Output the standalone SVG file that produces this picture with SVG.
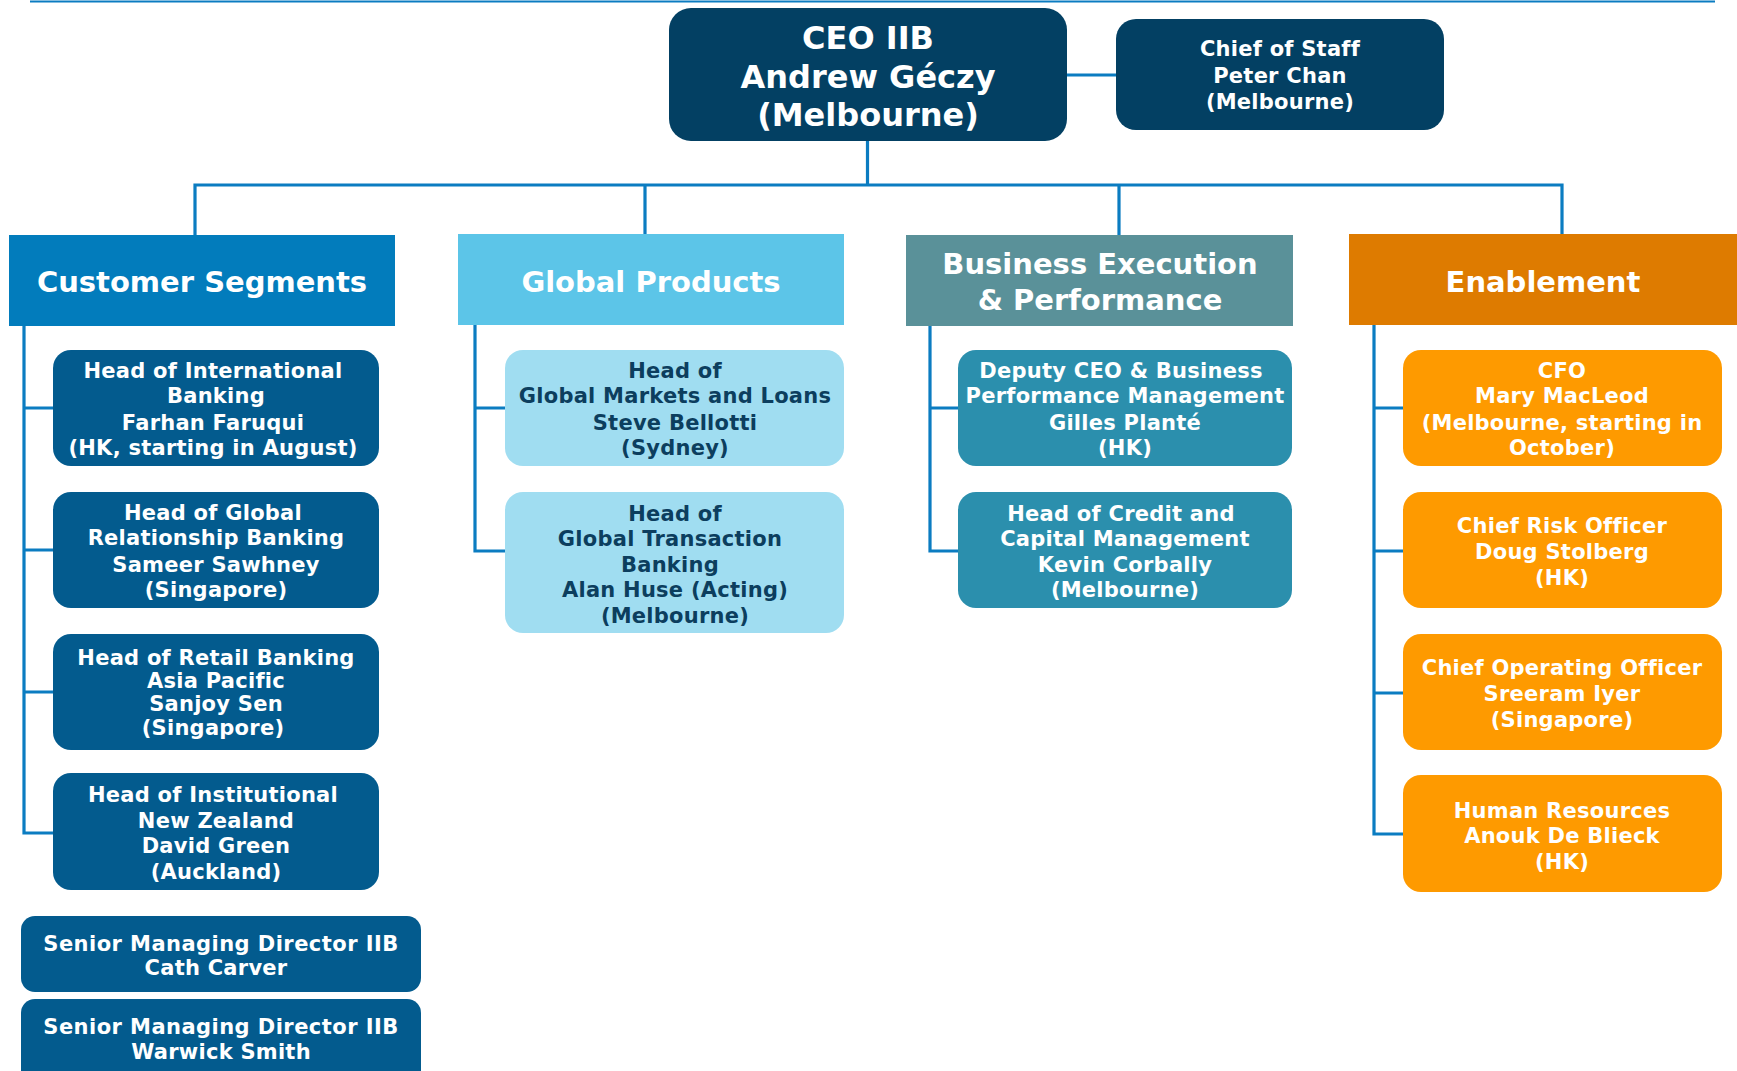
<svg xmlns="http://www.w3.org/2000/svg" width="1737" height="1071" viewBox="0 0 1737 1071">
<style>
text{font-family:"DejaVu Sans","Verdana",sans-serif;font-weight:bold;text-anchor:middle}
.w{fill:#ffffff}
.dk{fill:#0c3e5e}
.f21{font-size:21px;letter-spacing:0.25px}
.f29{font-size:29px}
.f32{font-size:32px}
.ln{stroke:#0b7cc1;stroke-width:3.2;fill:none}
.ceo{fill:#034063}
.cs{fill:#035b8e}
.gp{fill:#a0ddf1}
.be{fill:#2b8fad}
.en{fill:#fe9a00}
.smd{letter-spacing:0.45px}
</style>
<g id="connectors">
<line x1="30" y1="1.5" x2="1715" y2="1.5" stroke="#0b7cc1" stroke-width="2"/>
<path class="ln" d="M1067 75H1116"/>
<path class="ln" d="M867.5 141V185M195 235V185H1562V235M645 185V235M1119 185V235"/>
<path class="ln" d="M24 326V833H53M24 408H53M24 550H53M24 692H53"/>
<path class="ln" d="M475 325V551H505M475 408H505"/>
<path class="ln" d="M930 326V551H958M930 408H958"/>
<path class="ln" d="M1374 325V834H1403M1374 408H1403M1374 551H1403M1374 693H1403"/>
</g>
<g id="ceo"><rect class="ceo" x="669" y="8" width="398" height="133" rx="22"/>
<text class="w f32" x="868" y="49">CEO IIB</text><text class="w f32" x="868" y="88">Andrew Géczy</text><text class="w f32" x="868" y="126">(Melbourne)</text></g>
<g id="chief-of-staff"><rect class="ceo" x="1116" y="19" width="328" height="111" rx="20"/>
<text class="w f21" x="1280" y="56">Chief of Staff</text><text class="w f21" x="1280" y="83">Peter Chan</text><text class="w f21" x="1280" y="108.5">(Melbourne)</text></g>
<g id="h-cs"><rect x="9" y="235" width="386" height="91" fill="#027cbc"/><text class="w f29" x="202" y="292">Customer Segments</text></g>
<g id="h-gp"><rect x="458" y="234" width="386" height="91" fill="#5cc5e8"/><text class="w f29" x="651" y="292">Global Products</text></g>
<g id="h-be"><rect x="906" y="235" width="387" height="91" fill="#5a9199"/><text class="w f29" x="1100" y="274">Business Execution</text><text class="w f29" x="1100" y="309.5">&amp; Performance</text></g>
<g id="h-en"><rect x="1349" y="234" width="388" height="91" fill="#de7b00"/><text class="w f29" x="1543" y="292">Enablement</text></g>
<g id="cs1"><rect class="cs" x="53" y="350" width="326" height="116" rx="18"/>
<text class="w f21" x="213" y="377.5">Head of International</text><text class="w f21" x="216" y="403">Banking</text><text class="w f21" x="213" y="429.5">Farhan Faruqui</text><text class="w f21" x="213" y="455">(HK, starting in August)</text></g>
<g id="cs2"><rect class="cs" x="53" y="492" width="326" height="116" rx="18"/>
<text class="w f21" x="213" y="519.5">Head of Global</text><text class="w f21" x="216" y="545">Relationship Banking</text><text class="w f21" x="216" y="571.5">Sameer Sawhney</text><text class="w f21" x="216" y="597">(Singapore)</text></g>
<g id="cs3"><rect class="cs" x="53" y="634" width="326" height="116" rx="18"/>
<text class="w f21" x="216" y="664.5">Head of Retail Banking</text><text class="w f21" x="216" y="688">Asia Pacific</text><text class="w f21" x="216" y="711">Sanjoy Sen</text><text class="w f21" x="213" y="734.5">(Singapore)</text></g>
<g id="cs4"><rect class="cs" x="53" y="773" width="326" height="117" rx="18"/>
<text class="w f21" x="213" y="801.5">Head of Institutional</text><text class="w f21" x="216" y="827.5">New Zealand</text><text class="w f21" x="216" y="853">David Green</text><text class="w f21" x="216" y="879">(Auckland)</text></g>
<g id="smd1"><rect class="cs" x="21" y="916" width="400" height="76" rx="14"/>
<text class="w f21 smd" x="221" y="950.5">Senior Managing Director IIB</text><text class="w f21" x="216" y="975">Cath Carver</text></g>
<g id="smd2"><rect class="cs" x="21" y="999" width="400" height="90" rx="14"/>
<text class="w f21 smd" x="221" y="1033.5">Senior Managing Director IIB</text><text class="w f21" x="221" y="1058.5">Warwick Smith</text></g>
<g id="gp1"><rect class="gp" x="505" y="350" width="339" height="116" rx="18"/>
<text class="dk f21" x="675" y="377.5">Head of</text><text class="dk f21" x="675" y="403">Global Markets and Loans</text><text class="dk f21" x="675" y="429.5">Steve Bellotti</text><text class="dk f21" x="675" y="455">(Sydney)</text></g>
<g id="gp2"><rect class="gp" x="505" y="492" width="339" height="141" rx="18"/>
<text class="dk f21" x="675" y="520.5">Head of</text><text class="dk f21" x="670" y="546">Global Transaction</text><text class="dk f21" x="670" y="571.5">Banking</text><text class="dk f21" x="675" y="597">Alan Huse (Acting)</text><text class="dk f21" x="675" y="622.5">(Melbourne)</text></g>
<g id="be1"><rect class="be" x="958" y="350" width="334" height="116" rx="18"/>
<text class="w f21" x="1121" y="377.5">Deputy CEO &amp; Business</text><text class="w f21" x="1125" y="403">Performance  Management</text><text class="w f21" x="1125" y="429.5">Gilles Planté</text><text class="w f21" x="1125" y="455">(HK)</text></g>
<g id="be2"><rect class="be" x="958" y="492" width="334" height="116" rx="18"/>
<text class="w f21" x="1121" y="520.5">Head of Credit and</text><text class="w f21" x="1125" y="545.5">Capital Management</text><text class="w f21" x="1125" y="571.5">Kevin Corbally</text><text class="w f21" x="1125" y="596.5">(Melbourne)</text></g>
<g id="en1"><rect class="en" x="1403" y="350" width="319" height="116" rx="18"/>
<text class="w f21" x="1562" y="377.5">CFO</text><text class="w f21" x="1562" y="403">Mary MacLeod</text><text class="w f21" x="1562" y="429.5">(Melbourne, starting in</text><text class="w f21" x="1562" y="455">October)</text></g>
<g id="en2"><rect class="en" x="1403" y="492" width="319" height="116" rx="18"/>
<text class="w f21" x="1562" y="532.5">Chief Risk Officer</text><text class="w f21" x="1562" y="559">Doug Stolberg</text><text class="w f21" x="1562" y="584.5">(HK)</text></g>
<g id="en3"><rect class="en" x="1403" y="634" width="319" height="116" rx="18"/>
<text class="w f21" x="1562" y="674.5">Chief Operating  Officer</text><text class="w f21" x="1562" y="701">Sreeram Iyer</text><text class="w f21" x="1562" y="726.5">(Singapore)</text></g>
<g id="en4"><rect class="en" x="1403" y="775" width="319" height="117" rx="18"/>
<text class="w f21" x="1562" y="817.5">Human Resources</text><text class="w f21" x="1562" y="843">Anouk De Blieck</text><text class="w f21" x="1562" y="869">(HK)</text></g>
</svg>
